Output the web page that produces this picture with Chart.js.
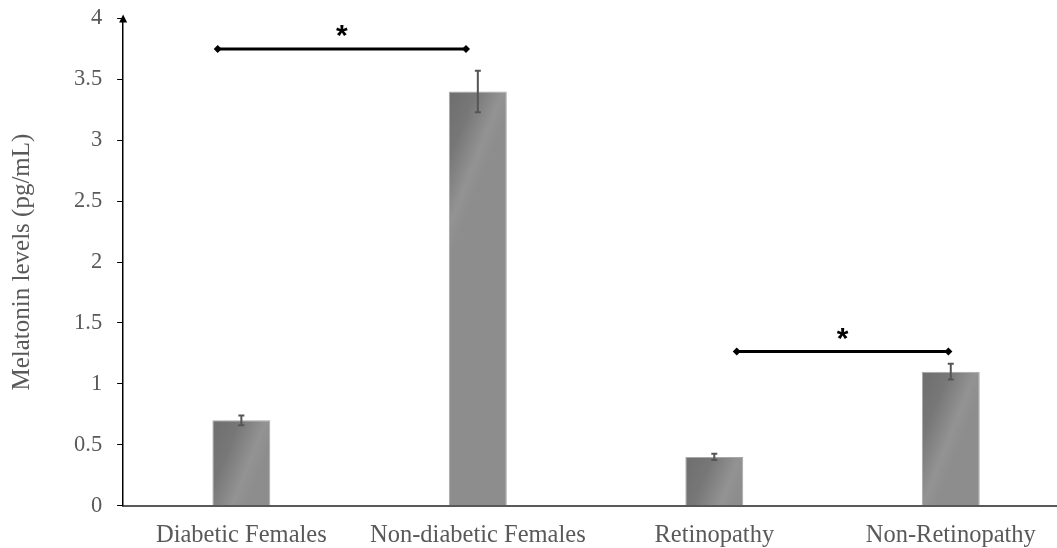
<!DOCTYPE html>
<html>
<head>
<meta charset="utf-8">
<script src="https://cdn.jsdelivr.net/npm/chart.js@4.4.1/dist/chart.umd.min.js"></script>
<style>
  html, body { margin: 0; padding: 0; background: #fff; overflow: hidden; }
  #wrap { width: 1075px; height: 558px; margin-top: -10px; position: relative; }
</style>
</head>
<body>
<div id="wrap"><canvas id="chart"></canvas></div>
<script>
// Data
const categories = ['Diabetic Females', 'Non-diabetic Females', 'Retinopathy', 'Non-Retinopathy'];
const melatonin = [0.7, 3.4, 0.4, 1.1];
const errors = [0.04, 0.17, 0.025, 0.065];
const yMin = 0;
const yMax = 4;
const yStep = 0.5;

// Significance brackets (category index positions, y value)
const sigFrom = [-0.1, 2.095];
const sigTo = [0.95, 2.99];
const sigLevel = [3.75, 1.265];
const sigMark = ['*', '*'];

const serif = '"Liberation Serif", "Times New Roman", serif';
const labelGrey = '#595959';

// Gradient fill for the bars
const barGradient = {
    id: 'barGradient',
    beforeDatasetsDraw(chart) {
        const ctx = chart.ctx;
        chart.getDatasetMeta(0).data.forEach(bar => {
            const left = bar.x - bar.width / 2;
            const right = bar.x + bar.width / 2;
            const g = ctx.createLinearGradient(left, bar.y, right, bar.y + bar.width * 0.4);
            g.addColorStop(0, '#6e6e6e');
            g.addColorStop(0.4, '#777777');
            g.addColorStop(0.8, '#939393');
            g.addColorStop(1, '#8d8d8d');
            bar.options.backgroundColor = g;
        });
    }
};

// Error bars
const errorBars = {
    id: 'errorBars',
    afterDatasetsDraw(chart) {
        const ctx = chart.ctx;
        const y = chart.scales.y;
        ctx.save();
        ctx.strokeStyle = '#555';
        ctx.lineWidth = 2;
        chart.getDatasetMeta(0).data.forEach((bar, i) => {
            const top = y.getPixelForValue(melatonin[i] + errors[i]);
            const bot = y.getPixelForValue(melatonin[i] - errors[i]);
            ctx.beginPath();
            ctx.moveTo(bar.x, top);
            ctx.lineTo(bar.x, bot);
            ctx.moveTo(bar.x - 3, top);
            ctx.lineTo(bar.x + 3, top);
            ctx.moveTo(bar.x - 3, bot);
            ctx.lineTo(bar.x + 3, bot);
            ctx.stroke();
        });
        ctx.restore();
    }
};

// Significance lines, asterisks and the y axis arrow
const annotations = {
    id: 'annotations',
    afterDraw(chart) {
        const ctx = chart.ctx;
        const xs = chart.scales.x;
        const ys = chart.scales.y;
        ctx.save();
        ctx.fillStyle = '#000';
        ctx.strokeStyle = '#000';

        sigLevel.forEach((lvl, i) => {
            const x1 = xs.getPixelForValue(sigFrom[i]);
            const x2 = xs.getPixelForValue(sigTo[i]);
            const yy = ys.getPixelForValue(lvl);
            ctx.lineWidth = 3;
            ctx.beginPath();
            ctx.moveTo(x1, yy);
            ctx.lineTo(x2, yy);
            ctx.stroke();
            [x1, x2].forEach(x => {
                ctx.beginPath();
                ctx.moveTo(x - 4, yy);
                ctx.lineTo(x, yy - 4);
                ctx.lineTo(x + 4, yy);
                ctx.lineTo(x, yy + 4);
                ctx.closePath();
                ctx.fill();
            });
            ctx.font = 'bold 30px "Liberation Sans", Arial, sans-serif';
            ctx.textAlign = 'center';
            ctx.textBaseline = 'middle';
            ctx.fillText(sigMark[i], (x1 + x2) / 2, yy - 12);
        });

        // arrow head on the y axis
        const ax = chart.chartArea.left;
        const top = ys.getPixelForValue(yMax);
        ctx.beginPath();
        ctx.moveTo(ax - 4, top + 4);
        ctx.lineTo(ax, top - 4);
        ctx.lineTo(ax + 4, top + 4);
        ctx.closePath();
        ctx.fill();
        ctx.restore();
    }
};

new Chart(document.getElementById('chart'), {
    type: 'bar',
    data: {
        labels: categories,
        datasets: [{
            label: 'Melatonin',
            data: melatonin,
            // scriptable so every bar keeps its own options object
            backgroundColor: () => '#7a7a7a',
            borderColor: '#a8a8a8',
            borderWidth: 1,
            barPercentage: 0.245,
            categoryPercentage: 1
        }]
    },
    options: {
        responsive: true,
        maintainAspectRatio: false,
        animation: false,
        layout: { padding: { top: -2, right: 6, left: 7, bottom: -17 } },
        plugins: {
            legend: { display: false },
            tooltip: { enabled: false }
        },
        scales: {
            x: {
                grid: { display: false, drawTicks: false },
                border: { display: true, color: '#595959', width: 2 },
                ticks: {
                    color: labelGrey,
                    font: { family: serif, size: 24.5 },
                    padding: 15,
                    maxRotation: 0,
                    autoSkip: false
                }
            },
            y: {
                min: yMin,
                max: yMax,
                ticks: {
                    stepSize: yStep,
                    color: labelGrey,
                    font: { family: serif, size: 22.5 },
                    padding: 15,
                    callback: v => String(v)
                },
                grid: {
                    drawOnChartArea: false,
                    drawTicks: true,
                    tickLength: 6,
                    color: '#000'
                },
                border: { display: true, color: '#000', width: 1.5 },
                title: {
                    display: true,
                    text: 'Melatonin levels (pg/mL)',
                    color: labelGrey,
                    font: { family: serif, size: 25 },
                    padding: { top: 0, bottom: 22 }
                }
            }
        }
    },
    plugins: [barGradient, errorBars, annotations]
});
</script>
</body>
</html>
